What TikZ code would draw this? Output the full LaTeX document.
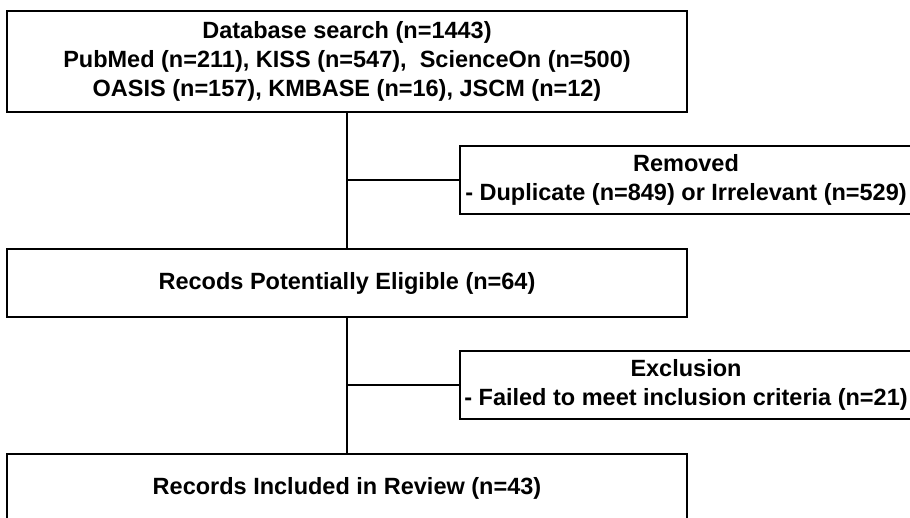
\documentclass[tikz,border=0pt]{standalone}
\usepackage{fontspec}
\setmainfont{Liberation Sans}
\begin{document}
\begin{tikzpicture}[x=1pt, y=-1pt, line width=1.3pt,
	box/.style={draw, minimum width=680pt, minimum height=68pt, inner sep=0pt, align=center, font=\fontsize{23.5}{29}\selectfont\bfseries},
	sidebox/.style={box, minimum width=452pt}]
	\useasboundingbox (0, 0) rectangle (910, 518);
	\node[box, minimum height=101pt] (search) at (347, 61.5) {Database search (n=1443)\\PubMed (n=211), KISS (n=547),\ \ ScienceOn (n=500)\\OASIS (n=157), KMBASE (n=16), JSCM (n=12)};
	\node[sidebox] (removed) at (686, 180) {Removed\\- Duplicate (n=849) or Irrelevant (n=529)};
	\node[box] (eligible) at (347, 283) {Recods Potentially Eligible (n=64)};
	\node[sidebox] (exclusion) at (686, 385) {Exclusion\\- Failed to meet inclusion criteria (n=21)};
	\node[box] (included) at (347, 488) {Records Included in Review (n=43)};

	\draw (search) -- (eligible);
	\draw (eligible) -- (included);
	\draw (search.south |- removed.west) -- (removed.west);
	\draw (eligible.south |- exclusion.west) -- (exclusion.west);
\end{tikzpicture}
\end{document}
